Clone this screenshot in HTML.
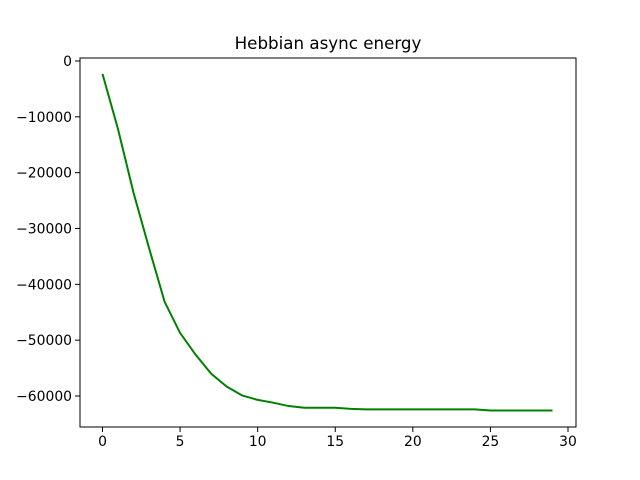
<!DOCTYPE html>
<html><head><meta charset="utf-8"><style>body{margin:0;background:#fff}svg{display:block}text{font-family:"DejaVu Sans","Liberation Sans",sans-serif;font-size:13.9px;fill:#000}</style></head>
<body>
<svg id="chart" width="640" height="480">
<rect width="640" height="480" fill="#fff"/>
<text x="328" y="49" text-anchor="middle" style="font-size:16.7px">Hebbian async energy</text>
<g id="plot"></g>
<rect x="80" y="58" width="496" height="369" fill="none" stroke="#000" stroke-width="1"/>
</svg>
<script>
const xs = [0,1,2,3,4,5,6,7,8,9,10,11,12,13,14,15,16,17,18,19,20,21,22,23,24,25,26,27,28,29];
const energy = [-2300,-12200,-23600,-33500,-43100,-48700,-52600,-56000,-58300,-59900,-60700,-61200,-61800,-62100,-62100,-62100,-62300,-62400,-62400,-62400,-62400,-62400,-62400,-62400,-62400,-62600,-62600,-62600,-62600,-62600];
const xTicks = [0,5,10,15,20,25,30];
const yTicks = [0,-10000,-20000,-30000,-40000,-50000,-60000];
const sx = v => 102.5 + v * (568 - 102.5) / 30;
const sy = v => 61 - v * (396 - 61) / 60000;
const NS = "http://www.w3.org/2000/svg";
const g = document.getElementById('plot');
function mk(t, a){const e=document.createElementNS(NS,t);for(const k in a)e.setAttribute(k,a[k]);g.appendChild(e);return e;}
xTicks.forEach(t=>{
  const l=mk('line',{x1:sx(t),x2:sx(t),y1:427,y2:432,stroke:'#000'});
  
  
  const tx=mk('text',{x:sx(t),y:446,'text-anchor':'middle'});tx.textContent=t;
  
  
});
yTicks.forEach(t=>{
  const l=mk('line',{x1:75,x2:80,y1:sy(t),y2:sy(t),stroke:'#000'});
  
  
  const tx=mk('text',{x:72,y:sy(t)+5,'text-anchor':'end'});tx.textContent=t===0?'0':'\u2212'+Math.abs(t);
  
  
});
const p=mk('polyline',{points:xs.map((x,i)=>sx(x)+','+sy(energy[i])).join(' '),fill:'none',stroke:'#008000','stroke-width':2});


</script>
</body></html>
